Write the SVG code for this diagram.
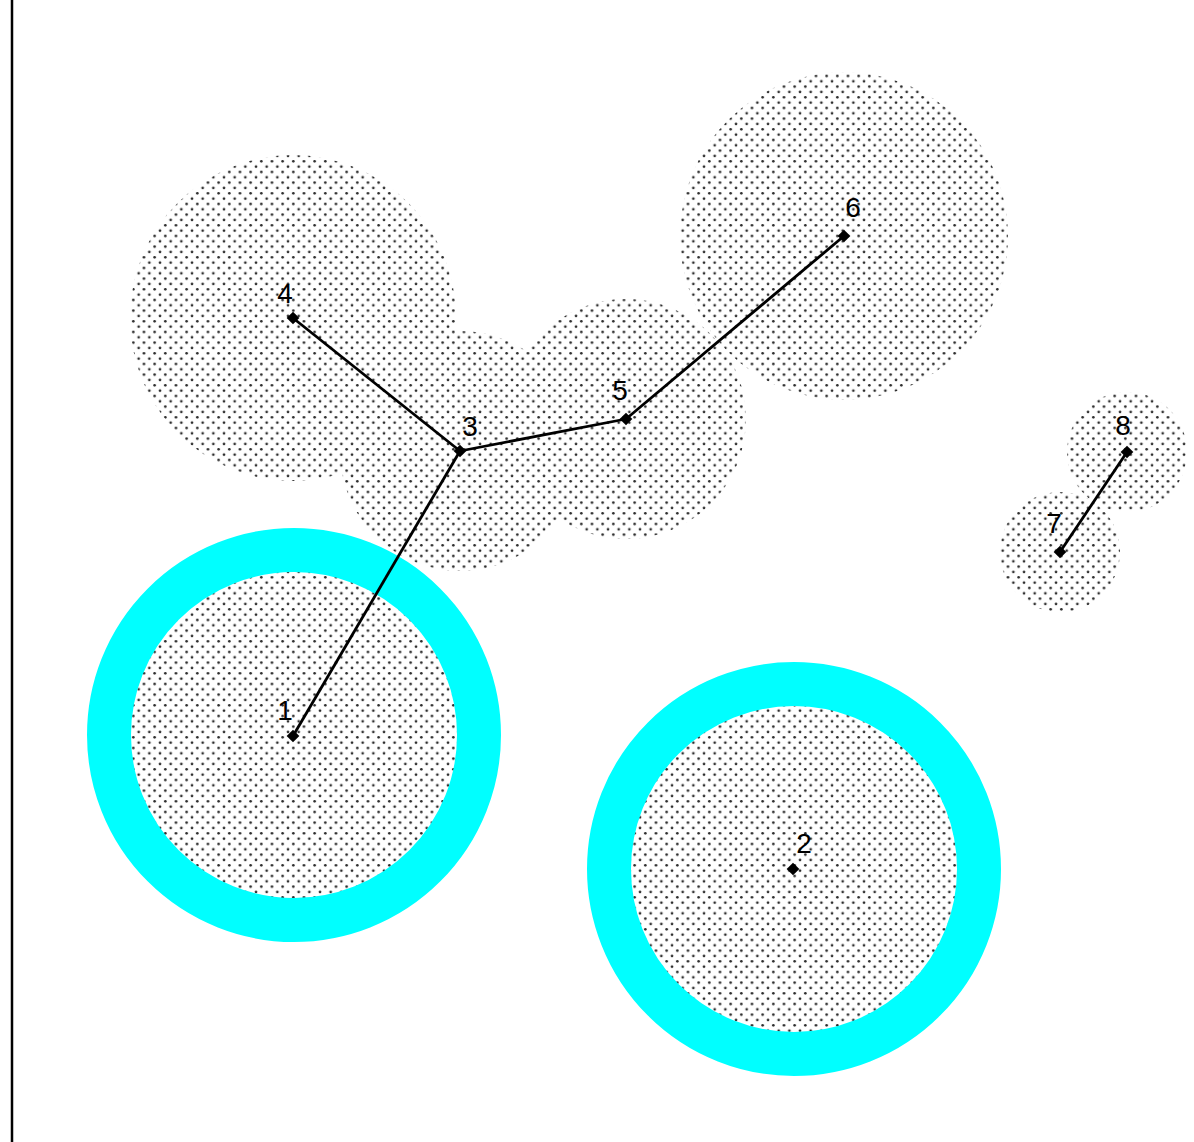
<svg xmlns="http://www.w3.org/2000/svg" width="1194" height="1142" viewBox="0 0 1194 1142">
<style>
.lbl{font-family:"Liberation Sans",Arial,sans-serif;font-size:28px;fill:#000;text-anchor:middle}
.area{fill:url(#dots)}
.ring{fill:none;stroke:#00ffff;stroke-width:44}
.edge{stroke:#000;stroke-width:2.8;fill:none}
.pt{fill:#000}
</style>
<defs>
<pattern id="dots" patternUnits="userSpaceOnUse" x="0" y="0" width="10.667" height="10.667">
<circle cx="5.3" cy="1.3" r="1.35" fill="#2a2a2a"/>
<circle cx="0" cy="6.6" r="1.35" fill="#2a2a2a"/>
<circle cx="10.667" cy="6.6" r="1.35" fill="#2a2a2a"/>
</pattern>
</defs>
<rect width="1194" height="1142" fill="#fff"/>
<line x1="12" y1="0" x2="12" y2="1142" stroke="#000" stroke-width="2.5"/>
<g id="areas">
<path class="area" d="M130,318 a163,163 0 1,0 326,0 a163,163 0 1,0 -326,0 z
M680,236 a164,164 0 1,0 328,0 a164,164 0 1,0 -328,0 z
M340,451 a120,120 0 1,0 240,0 a120,120 0 1,0 -240,0 z
M506,419 a120,120 0 1,0 240,0 a120,120 0 1,0 -240,0 z
M1000,552 a60,60 0 1,0 120,0 a60,60 0 1,0 -120,0 z
M1067,452 a60,60 0 1,0 120,0 a60,60 0 1,0 -120,0 z
M130,735 a164,164 0 1,0 328,0 a164,164 0 1,0 -328,0 z
M630,869 a164,164 0 1,0 328,0 a164,164 0 1,0 -328,0 z"/>
</g>
<g id="rings">
<circle class="ring" cx="294" cy="735" r="185"/>
<circle class="ring" cx="794" cy="869" r="185"/>
</g>
<g id="connectors">
<line class="edge" x1="293" y1="318" x2="460" y2="451"/>
<line class="edge" x1="460" y1="451" x2="626" y2="419"/>
<line class="edge" x1="626" y1="419" x2="844" y2="236"/>
<line class="edge" x1="460" y1="451" x2="293" y2="736"/>
<line class="edge" x1="1060" y1="552" x2="1127" y2="452"/>
</g>
<g id="node1"><rect class="pt" x="288.5" y="731.5" width="9" height="9" transform="rotate(45 293 736)"/><text class="lbl" x="285" y="720">1</text></g>
<g id="node2"><rect class="pt" x="788.5" y="864.5" width="9" height="9" transform="rotate(45 793 869)"/><text class="lbl" x="804" y="853">2</text></g>
<g id="node3"><rect class="pt" x="455.5" y="446.5" width="9" height="9" transform="rotate(45 460 451)"/><text class="lbl" x="470" y="436">3</text></g>
<g id="node4"><rect class="pt" x="288.5" y="313.5" width="9" height="9" transform="rotate(45 293 318)"/><text class="lbl" x="285" y="303">4</text></g>
<g id="node5"><rect class="pt" x="621.5" y="414.5" width="9" height="9" transform="rotate(45 626 419)"/><text class="lbl" x="620" y="400">5</text></g>
<g id="node6"><rect class="pt" x="839.5" y="231.5" width="9" height="9" transform="rotate(45 844 236)"/><text class="lbl" x="853" y="217">6</text></g>
<g id="node7"><rect class="pt" x="1055.5" y="547.5" width="9" height="9" transform="rotate(45 1060 552)"/><text class="lbl" x="1054" y="533">7</text></g>
<g id="node8"><rect class="pt" x="1122.5" y="447.5" width="9" height="9" transform="rotate(45 1127 452)"/><text class="lbl" x="1123" y="435">8</text></g>
</svg>
